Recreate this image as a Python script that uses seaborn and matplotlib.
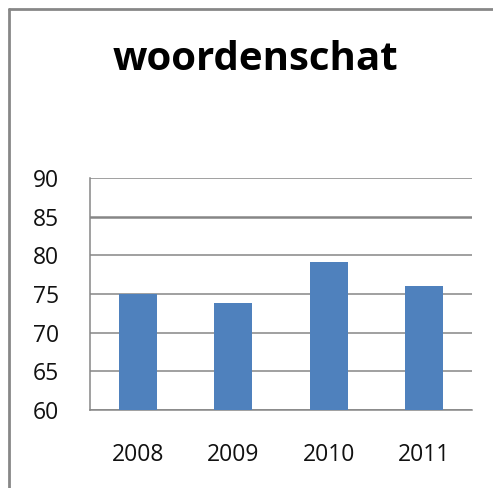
import matplotlib
matplotlib.use("Agg")
import matplotlib.pyplot as plt
import pandas as pd
import seaborn as sns
from matplotlib.lines import Line2D

# data
years = ["2008", "2009", "2010", "2011"]
scores = [75.0, 73.8, 79.1, 76.0]
title = "woordenschat"

df = pd.DataFrame({"jaar": years, "score": scores})

sns.set_style("white")
plt.rcParams["font.family"] = ["Open Sans", "DejaVu Sans"]

fig = plt.figure(figsize=(4.93, 4.88), dpi=100)
ax = fig.add_axes([90 / 493, 78 / 488, 382 / 493, 232 / 488])

sns.barplot(data=df, x="jaar", y="score", color="#4F81BD", saturation=1,
            width=0.4, linewidth=0, ax=ax, zorder=3)

ax.set_ylim(60, 90)
ax.set_yticks(range(60, 91, 5))
ax.set_xlim(-0.5, 3.5)
ax.set_xlabel("")
ax.set_ylabel("")
ax.yaxis.grid(True, color="#868686", linewidth=1.1)
for i, gl in enumerate(ax.get_ygridlines()):
    if i == 5:
        gl.set_linewidth(1.8)
ax.set_axisbelow(True)

for s in ["top", "right"]:
    ax.spines[s].set_visible(False)
for s in ["left", "bottom"]:
    ax.spines[s].set_color("#868686")
    ax.spines[s].set_linewidth(1.1)

ax.tick_params(axis="y", length=0, pad=22, labelsize=16.5, labelcolor="#111111")
ax.tick_params(axis="x", length=0, pad=24, labelsize=16.5, labelcolor="#111111")

fig.text(255 / 493, 1 - 60 / 488, title, ha="center", va="center",
         fontsize=29, fontweight="bold", color="black")

# outer frame (top and left only)
fig.add_artist(Line2D([9 / 493, 1], [1 - 9 / 488, 1 - 9 / 488],
                      transform=fig.transFigure, color="#878787", linewidth=2))
fig.add_artist(Line2D([9 / 493, 9 / 493], [0, 1 - 9 / 488],
                      transform=fig.transFigure, color="#878787", linewidth=2))

fig.savefig("out.png", dpi=100)
